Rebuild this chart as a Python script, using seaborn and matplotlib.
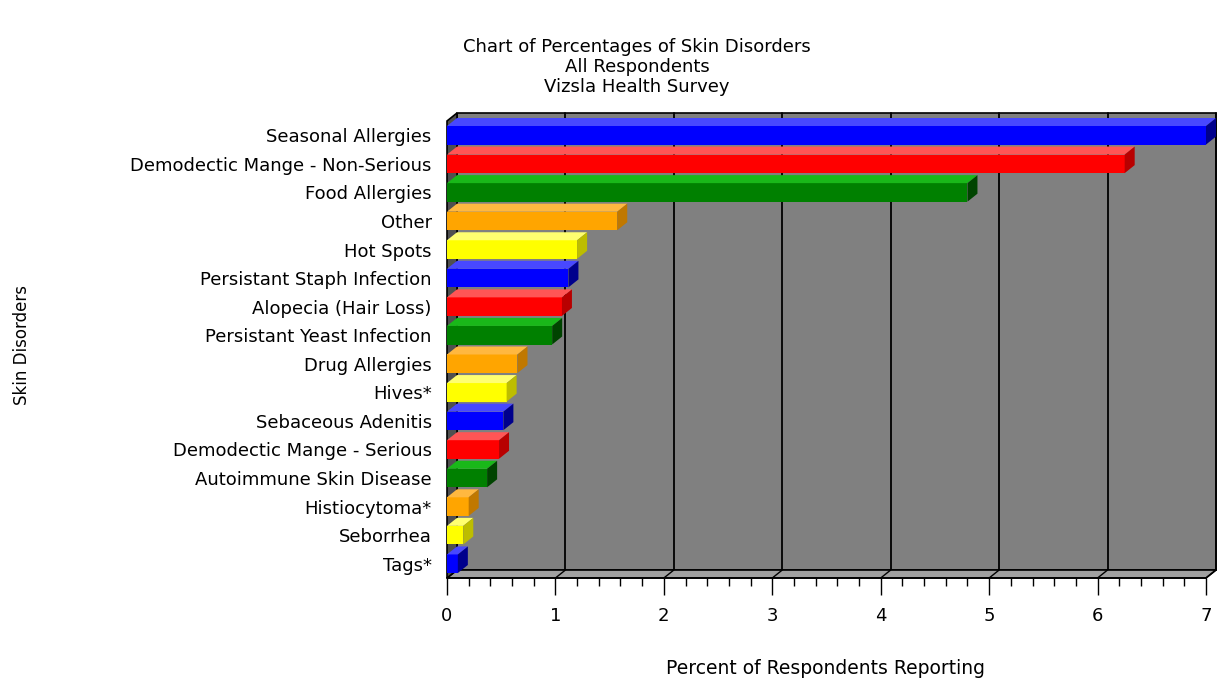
import matplotlib
matplotlib.use('Agg')
import matplotlib.pyplot as plt
import seaborn as sns
from matplotlib.patches import Polygon
from matplotlib.ticker import MultipleLocator

disorders = ['Seasonal Allergies', 'Demodectic Mange - Non-Serious', 'Food Allergies', 'Other',
             'Hot Spots', 'Persistant Staph Infection', 'Alopecia (Hair Loss)',
             'Persistant Yeast Infection', 'Drug Allergies', 'Hives*', 'Sebaceous Adenitis',
             'Demodectic Mange - Serious', 'Autoimmune Skin Disease', 'Histiocytoma*',
             'Seborrhea', 'Tags*']
percents = [7.0, 6.25, 4.8, 1.57, 1.2, 1.12, 1.06, 0.97, 0.65, 0.55, 0.52, 0.48, 0.37, 0.2, 0.15, 0.1]
x_ticks = [0, 1, 2, 3, 4, 5, 6, 7]

front = ['#0000FF', '#FF0000', '#008000', '#FFA500', '#FFFF00']
top = ['#4848FF', '#FF5555', '#19B819', '#FFB840', '#FFFF70']
side = ['#00008C', '#B80000', '#004400', '#C07800', '#BDBD00']

sns.set_theme(style='white')
plt.rcParams['font.family'] = ['DejaVu Sans']
plt.rcParams['text.color'] = 'black'
plt.rcParams['xtick.color'] = 'black'
plt.rcParams['ytick.color'] = 'black'

fig = plt.figure(figsize=(12.25, 6.83), dpi=100)
ax = fig.add_axes([447 / 1225, 105 / 683, 759 / 1225, 457 / 683])

cols = [front[i % 5] for i in range(len(disorders))]
sns.barplot(x=percents, y=disorders, hue=disorders, palette=cols, legend=False,
            orient='h', width=0.65, saturation=1, linewidth=0, ax=ax, zorder=3)
bars = list(ax.patches)

ax.set_xlim(0, 7)
ax.set_ylim(15.5, -0.5)
n = len(disorders)

# depth of the fake 3d box, in data units (~10px right, ~8px up)
dx = 7 * 10 / 759
dy = 16 * 8 / 457

# back wall, floor, left wall
wall = Polygon([(dx, -0.5 - dy), (7 + dx, -0.5 - dy), (7 + dx, n - 0.5 - dy), (dx, n - 0.5 - dy)],
               closed=True, facecolor='#808080', edgecolor='black', lw=1.2, zorder=0, clip_on=False)
ax.add_patch(wall)
floor = Polygon([(0, n - 0.5), (7, n - 0.5), (7 + dx, n - 0.5 - dy), (dx, n - 0.5 - dy)],
                closed=True, facecolor='#a0a0a0', edgecolor='black', lw=1.2, zorder=1, clip_on=False)
ax.add_patch(floor)
lwall = Polygon([(0, -0.5), (dx, -0.5 - dy), (dx, n - 0.5 - dy), (0, n - 0.5)],
                closed=True, facecolor='#505050', edgecolor='black', lw=1.2, zorder=1, clip_on=False)
ax.add_patch(lwall)

for v in x_ticks[1:]:
    ax.plot([v + dx, v + dx], [-0.5 - dy, n - 0.5 - dy], color='black', lw=1.3, zorder=0.5, clip_on=False)
    ax.plot([v, v + dx], [n - 0.5, n - 0.5 - dy], color='black', lw=1, zorder=1.5, clip_on=False)

# top and side faces of the bars
for i, p in enumerate(bars):
    x0, y0, w, h = p.get_x(), p.get_y(), p.get_width(), p.get_height()
    k = i % 5
    ax.add_patch(Polygon([(x0, y0), (x0 + w, y0), (x0 + w + dx, y0 - dy), (x0 + dx, y0 - dy)],
                         closed=True, facecolor=top[k], lw=0, zorder=3, clip_on=False))
    ax.add_patch(Polygon([(x0 + w, y0), (x0 + w, y0 + h), (x0 + w + dx, y0 + h - dy), (x0 + w + dx, y0 - dy)],
                         closed=True, facecolor=side[k], lw=0, zorder=3, clip_on=False))

for s in ['top', 'right', 'left']:
    ax.spines[s].set_visible(False)
ax.spines['bottom'].set_color('black')
ax.spines['bottom'].set_linewidth(1.2)
ax.set_facecolor('none')

ax.set_xticks(x_ticks)
ax.xaxis.set_minor_locator(MultipleLocator(0.2))
ax.tick_params(axis='x', which='major', direction='out', length=12, width=1, color='black',
               labelsize=13, pad=9, bottom=True)
ax.tick_params(axis='x', which='minor', direction='out', length=6, width=1, color='black', bottom=True)
ax.tick_params(axis='y', length=0, labelsize=13, pad=11)
ax.set_xlabel('')
ax.set_ylabel('')

fig.text(637 / 1225, 1 - 47 / 683, 'Chart of Percentages of Skin Disorders', ha='center', va='center', fontsize=13)
fig.text(637 / 1225, 1 - 67 / 683, 'All Respondents', ha='center', va='center', fontsize=13)
fig.text(637 / 1225, 1 - 87 / 683, 'Vizsla Health Survey', ha='center', va='center', fontsize=13)
fig.text(826 / 1225, 1 - 668 / 683, 'Percent of Respondents Reporting', ha='center', va='center', fontsize=13.5)
fig.text(22 / 1225, 1 - 345 / 683, 'Skin Disorders', ha='center', va='center', rotation=90, fontsize=12)

fig.savefig('out.png', dpi=100, facecolor='white')
